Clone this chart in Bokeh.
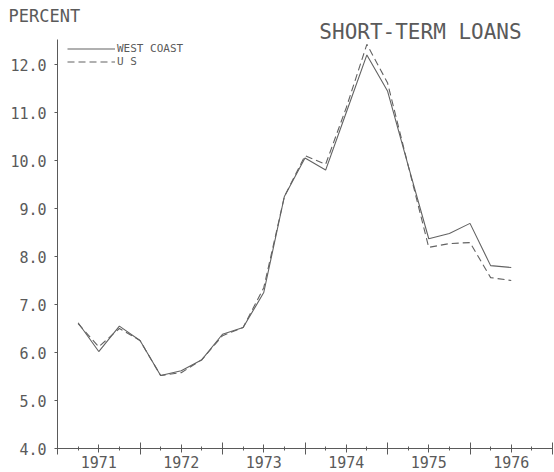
from bokeh.plotting import figure
from bokeh.models import (FixedTicker, LinearAxis, Legend, LegendItem, Label,
                          NumeralTickFormatter, Range1d)
from bokeh.embed import file_html
from bokeh.resources import INLINE

# ---- data (quarterly observations) ----
dates = [1971.25, 1971.50, 1971.75, 1972.00, 1972.25, 1972.50, 1972.75,
         1973.00, 1973.25, 1973.50, 1973.75, 1974.00, 1974.25, 1974.50,
         1974.75, 1975.00, 1975.25, 1975.50, 1975.75, 1976.00, 1976.25,
         1976.50]
west_coast = [6.62, 6.02, 6.55, 6.25, 5.52, 5.62, 5.85,
              6.38, 6.52, 7.25, 9.25, 10.05, 9.80, 11.00,
              12.20, 11.45, 9.90, 8.37, 8.48, 8.69, 7.81,
              7.77]
us = [6.60, 6.12, 6.50, 6.25, 5.52, 5.58, 5.85,
      6.35, 6.52, 7.35, 9.25, 10.10, 9.92, 11.10,
      12.42, 11.62, 9.90, 8.19, 8.27, 8.29, 7.56,
      7.50]
years = [1971, 1972, 1973, 1974, 1975, 1976]
year_labels = ["1971", "1972", "1973", "1974", "1975", "1976"]
y_ticks = [4.0, 5.0, 6.0, 7.0, 8.0, 9.0, 10.0, 11.0, 12.0]

FONT = "DejaVu Sans Mono"
INK = "#5a5a5a"
LINE = "#626262"

W, H = 554, 472
# layout: axis origin (1971, 4.0) at pixel (57, 448); 82.5 px / year; 48 px / percent
OX, OY, PX_YR, PX_PCT = 57, 448, 82.5, 48.0
x_start = years[0] - OX / PX_YR
x_end = years[0] + (W - OX) / PX_YR
y_start = y_ticks[0] - (H - OY) / PX_PCT
y_end = y_ticks[0] + OY / PX_PCT
y_top = y_ticks[-1] + 25 / PX_PCT

p = figure(width=W, height=H,
           x_range=Range1d(x_start, x_end), y_range=Range1d(y_start, y_end),
           x_axis_type=None, y_axis_type=None,
           output_backend="svg", toolbar_location=None,
           min_border=0, min_border_left=0, min_border_right=0,
           min_border_top=0, min_border_bottom=0,
           background_fill_color="white", border_fill_color="white")
p.outline_line_color = None

x_bounds = (years[0], years[-1] + 1)
mids = [y + 0.5 for y in years]
quarters = [y + q / 4 for y in years for q in (1, 3)]
boundaries = years + [years[-1] + 1]

# ---- x axis with year labels (centered in each year) ----
xa = LinearAxis(ticker=FixedTicker(ticks=mids, minor_ticks=quarters),
                fixed_location=y_ticks[0], bounds=x_bounds,
                major_tick_in=4, major_tick_out=4,
                minor_tick_in=2, minor_tick_out=2,
                major_label_overrides={m: lab for m, lab in zip(mids, year_labels)},
                major_label_standoff=3,
                major_label_text_font=FONT, major_label_text_font_size="15px",
                major_label_text_color=INK,
                axis_line_color=INK, major_tick_line_color=INK,
                minor_tick_line_color=INK)
p.add_layout(xa, "below")

# ---- tall ticks at year boundaries ----
xb = LinearAxis(ticker=FixedTicker(ticks=[], minor_ticks=boundaries),
                fixed_location=y_ticks[0], bounds=x_bounds,
                major_tick_in=0, major_tick_out=0,
                minor_tick_in=6, minor_tick_out=6,
                axis_line_color=None, minor_tick_line_color=INK)
p.add_layout(xb, "below")

# ---- y axis ----
ya = LinearAxis(ticker=FixedTicker(ticks=y_ticks, minor_ticks=[]),
                fixed_location=years[0], bounds=(y_ticks[0], y_top),
                formatter=NumeralTickFormatter(format="0.0"),
                major_tick_in=0, major_tick_out=3,
                minor_tick_in=0, minor_tick_out=0,
                major_label_standoff=8,
                major_label_text_font=FONT, major_label_text_font_size="15px",
                major_label_text_color=INK,
                axis_line_color=INK, major_tick_line_color=INK)
p.add_layout(ya, "left")

# ---- lines ----
r1 = p.line(dates, west_coast, line_color=LINE, line_width=1.1)
r2 = p.line(dates, us, line_color=LINE, line_width=1.1, line_dash="7 4")

legend = Legend(items=[LegendItem(label="WEST COAST", renderers=[r1]),
                       LegendItem(label="U S", renderers=[r2])],
                location=(67, 404), padding=0, margin=0, spacing=0,
                glyph_width=48, glyph_height=11, label_height=11,
                label_standoff=2, label_text_font=FONT,
                label_text_font_size="11px", label_text_color=INK,
                label_text_baseline="alphabetic",
                background_fill_alpha=0, border_line_color=None)
p.add_layout(legend)

# ---- texts ----
p.add_layout(Label(x=8, y=H - 15, x_units="screen", y_units="screen",
                   text="PERCENT", text_font=FONT, text_font_size="17px",
                   text_color=INK, text_baseline="middle"))
p.add_layout(Label(x=420, y=H - 31, x_units="screen", y_units="screen",
                   text="SHORT-TERM LOANS", text_font=FONT,
                   text_font_size="21px", text_color=INK,
                   text_align="center", text_baseline="middle"))

open("out.html", "w").write(file_html(p, INLINE))
